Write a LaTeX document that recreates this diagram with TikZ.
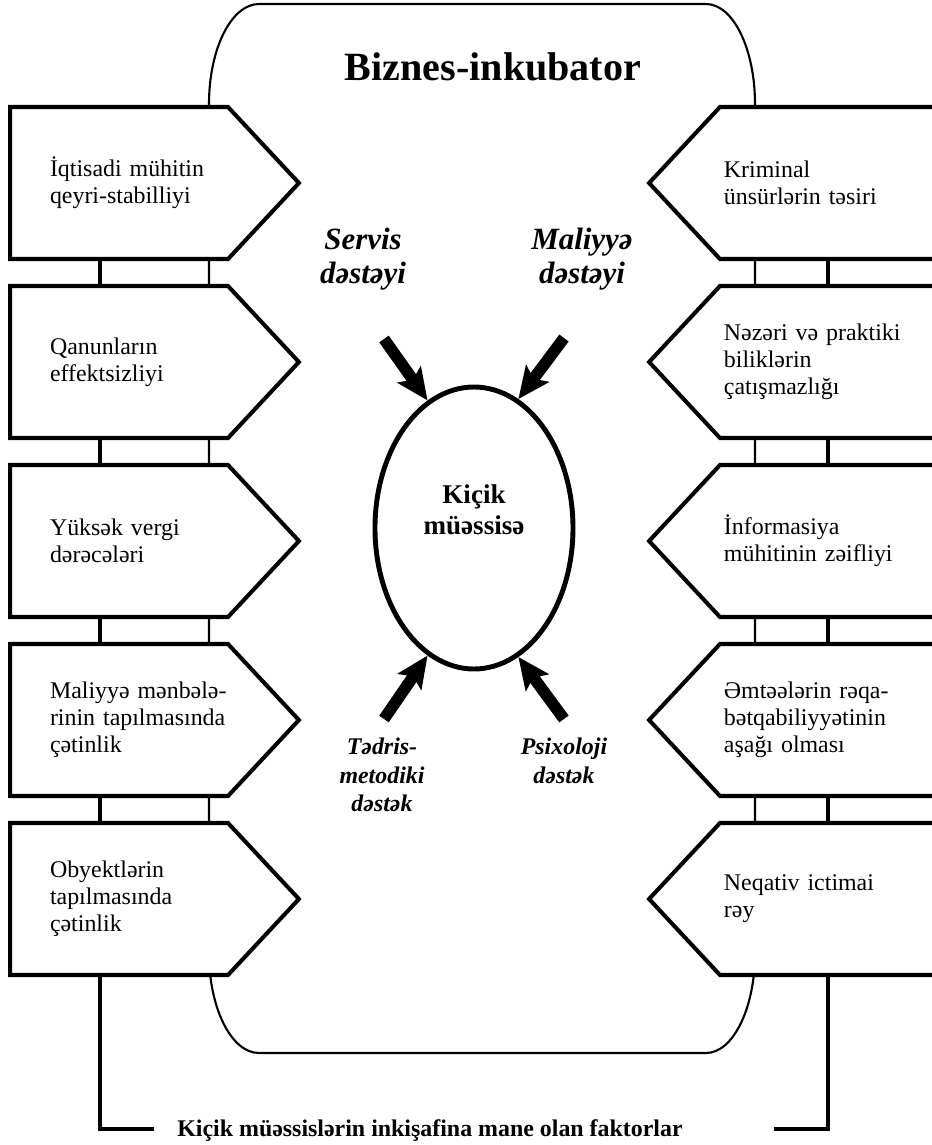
\documentclass[tikz,border=0pt]{standalone}
\usepackage{fontspec}
\setmainfont{Liberation Serif}
\usetikzlibrary{shapes.geometric, shapes.symbols, arrows.meta, positioning}

\begin{document}
\begin{tikzpicture}[
  lbox/.style={signal,signal to=east,signal pointer angle=94,draw,line width=1.15pt,fill=white, minimum height=1.52cm,inner xsep=0.40cm,inner ysep=0pt,text width=1.38cm,align=left, anchor=west,font=\fontsize{6.8}{7.7}\selectfont, execute at begin node={\hyphenpenalty=10000\exhyphenpenalty=10000}},
  rbox/.style={signal,signal to=west,signal pointer angle=94,draw,line width=1.15pt,fill=white, minimum height=1.52cm,inner xsep=0.04cm,inner ysep=0pt,text width=2.17cm,align=left, anchor=east,font=\fontsize{6.8}{7.7}\selectfont},
  bus/.style={line width=1.1pt},
  inc/.style={line width=0.6pt},
  topl/.style={font=\fontsize{8.8}{9.7}\selectfont\bfseries\itshape,align=center},
  botl/.style={font=\fontsize{6.8}{8.1}\selectfont\bfseries\itshape,align=center},
  bigarr/.style={-{Stealth[length=9pt,width=8pt,inset=1.8pt]},line width=3.3pt}
]
  \useasboundingbox (0,0) rectangle (9.32,-11.45);

  % biznes-inkubator frame
  \draw[inc] (2.59,-0.04) -- (7.06,-0.04)
    arc[start angle=90,end angle=0,x radius=0.49,y radius=1.0] -- (7.55,-9.53)
    arc[start angle=0,end angle=-90,x radius=0.49,y radius=1.0] -- (2.59,-10.53)
    arc[start angle=270,end angle=180,x radius=0.5,y radius=1.0] -- (2.09,-1.04)
    arc[start angle=180,end angle=90,x radius=0.5,y radius=1.0] -- cycle;
  \node[font=\fontsize{11.4}{13}\selectfont\bfseries] (ttl) at (4.93,-0.67) {Biznes-inkubator};

  % left factors
  \node[lbox] (l1) at (0.08,-1.83) {İqtisadi~mühitin\\qeyri-stabilliyi};
  \node[lbox] (l2) at (0.08,-3.62) {Qanunların\\effektsizliyi};
  \node[lbox] (l3) at (0.08,-5.41) {Yüksək~vergi\\dərəcələri};
  \node[lbox] (l4) at (0.08,-7.20) {Maliyyə~mənbələ-\\rinin~tapılmasında\\çətinlik};
  \node[lbox] (l5) at (0.08,-8.99) {Obyektlərin\\tapılmasında\\çətinlik};

  % right factors
  \node[rbox] (r1) at (9.47,-1.83) {Kriminal\\ünsürlərin təsiri};
  \node[rbox] (r2) at (9.47,-3.62) {Nəzəri və praktiki\\biliklərin\\çatışmazlığı};
  \node[rbox] (r3) at (9.47,-5.41) {İnformasiya\\mühitinin zəifliyi};
  \node[rbox] (r4) at (9.47,-7.20) {Əmtəələrin rəqa-\\bətqabiliyyətinin\\aşağı olması};
  \node[rbox] (r5) at (9.47,-8.99) {Neqativ ictimai\\rəy};

  \coordinate (lbus) at (1.00,0);
  \coordinate (rbus) at (8.28,0);
  \draw[bus] (l1.south -| lbus) -- (l2.north -| lbus);
  \draw[bus] (l2.south -| lbus) -- (l3.north -| lbus);
  \draw[bus] (l3.south -| lbus) -- (l4.north -| lbus);
  \draw[bus] (l4.south -| lbus) -- (l5.north -| lbus);
  \draw[bus] (r1.south -| rbus) -- (r2.north -| rbus);
  \draw[bus] (r2.south -| rbus) -- (r3.north -| rbus);
  \draw[bus] (r3.south -| rbus) -- (r4.north -| rbus);
  \draw[bus] (r4.south -| rbus) -- (r5.north -| rbus);

  \node[font=\fontsize{6.8}{8}\selectfont\bfseries] (fac) at (4.30,-11.31) {Kiçik müəssislərin inkişafina mane olan faktorlar};
  \coordinate (fl) at (1.54,-11.29);
  \coordinate (fr) at (7.74,-11.29);
  \draw[bus] (l5.south -| lbus) |- (fl);
  \draw[bus] (r5.south -| rbus) |- (fr);

  % small enterprise and support
  \node[ellipse,draw,line width=1.4pt,minimum width=1.98cm,minimum height=2.82cm,inner sep=0pt, align=center,text depth=0.36cm,font=\fontsize{7.7}{8.8}\selectfont\bfseries] (kici) at (4.74,-5.28) {Kiçik\\müəssisə};

  \node[topl] (srv) at (3.63,-2.59) {Servis\\dəstəyi};
  \node[topl] (mal) at (5.82,-2.59) {Maliyyə\\dəstəyi};
  \node[botl] (tdr) at (3.82,-7.75) {Tədris-\\metodiki\\dəstək};
  \node[botl] (psx) at (5.64,-7.61) {Psixoloji\\dəstək};

  \coordinate (srvT) at (3.84,-3.39);
  \coordinate (malT) at (5.64,-3.38);
  \coordinate (tdrT) at (3.84,-7.19);
  \coordinate (psxT) at (5.64,-7.19);
  \draw[bigarr] (srvT) -- (kici.110);
  \draw[bigarr] (malT) -- (kici.71);
  \draw[bigarr] (tdrT) -- (kici.250);
  \draw[bigarr] (psxT) -- (kici.289);
\end{tikzpicture}
\end{document}
